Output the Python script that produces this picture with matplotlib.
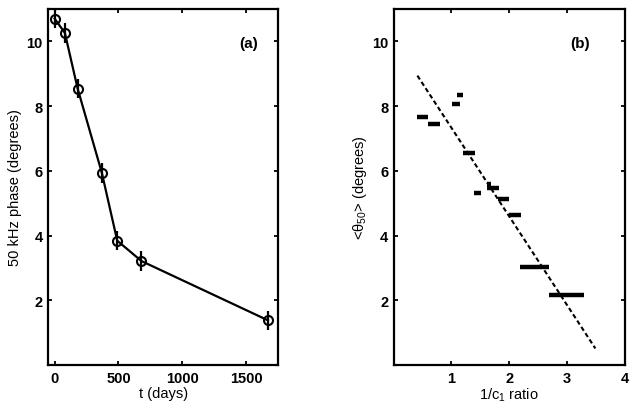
import matplotlib
matplotlib.use("Agg")
import matplotlib.pyplot as plt

plt.rcParams["font.family"] = ["Liberation Sans", "DejaVu Sans"]
plt.rcParams["mathtext.fontset"] = "custom"
plt.rcParams["mathtext.rm"] = "Liberation Sans"
plt.rcParams["mathtext.it"] = "Liberation Sans:italic"

# panel (a): phase vs time
t_days = [0, 80, 180, 370, 490, 680, 1670]
phase = [10.70, 10.26, 8.54, 5.93, 3.84, 3.21, 1.38]
phase_err = [0.30, 0.30, 0.30, 0.30, 0.30, 0.30, 0.30]

# panel (b): mean phase vs 1/c1 ratio (horizontal error bars)
ratio = [0.50, 0.70, 1.075, 1.15, 1.30, 1.45, 1.65, 1.72, 1.90, 2.10, 2.44, 2.99]
ratio_err = [0.10, 0.10, 0.07, 0.05, 0.10, 0.06, 0.04, 0.10, 0.10, 0.11, 0.25, 0.30]
theta50 = [7.67, 7.45, 8.05, 8.34, 6.54, 5.31, 5.60, 5.47, 5.13, 4.64, 3.03, 2.15]
fit_x = [0.41, 3.49]
fit_y = [8.94, 0.51]

fig = plt.figure(figsize=(6.35, 4.14), dpi=100)
ax1 = fig.add_axes([0.076, 0.116, 0.362, 0.860])
ax2 = fig.add_axes([0.620, 0.116, 0.364, 0.860])

ax1.errorbar(t_days, phase, yerr=phase_err, color="black", linewidth=1.6,
             elinewidth=1.6, capsize=0, marker="o", markersize=6.5,
             markerfacecolor="none", markeredgewidth=1.5)
ax1.set_xlim(-50, 1750)
ax1.set_ylim(0, 11)
ax1.set_xticks([0, 500, 1000, 1500])
ax1.set_yticks([2, 4, 6, 8, 10])
ax1.set_xlabel("t (days)", fontsize=10.5, labelpad=1)
ax1.set_ylabel("50 kHz phase (degrees)", fontsize=10.5, labelpad=3)
ax1.text(1520, 9.96, "(a)", fontsize=11, fontweight="bold", ha="center", va="center")

ax2.errorbar(ratio, theta50, xerr=ratio_err, fmt="none", ecolor="black",
             elinewidth=3.2, capsize=0)
ax2.plot(fit_x, fit_y, color="black", linewidth=1.5, linestyle=(0, (2.2, 1.4)))
ax2.set_xlim(0, 4)
ax2.set_ylim(0, 11)
ax2.set_xticks([1, 2, 3, 4])
ax2.set_yticks([2, 4, 6, 8, 10])
ax2.set_xlabel(r"1/c$_\mathregular{1}$ ratio", fontsize=10.5, labelpad=1)
ax2.set_ylabel(r"<$\mathregular{\theta_{50}}$> (degrees)", fontsize=10.5, labelpad=2)
ax2.text(3.23, 9.96, "(b)", fontsize=11, fontweight="bold", ha="center", va="center")

for ax in (ax1, ax2):
    for spine in ax.spines.values():
        spine.set_linewidth(1.6)
    ax.tick_params(direction="in", top=True, right=True, length=3, width=1.3,
                   labelsize=10.5, pad=4)
    for lab in ax.get_xticklabels() + ax.get_yticklabels():
        lab.set_fontweight("bold")

fig.savefig("out.png", dpi=100, facecolor="white")
